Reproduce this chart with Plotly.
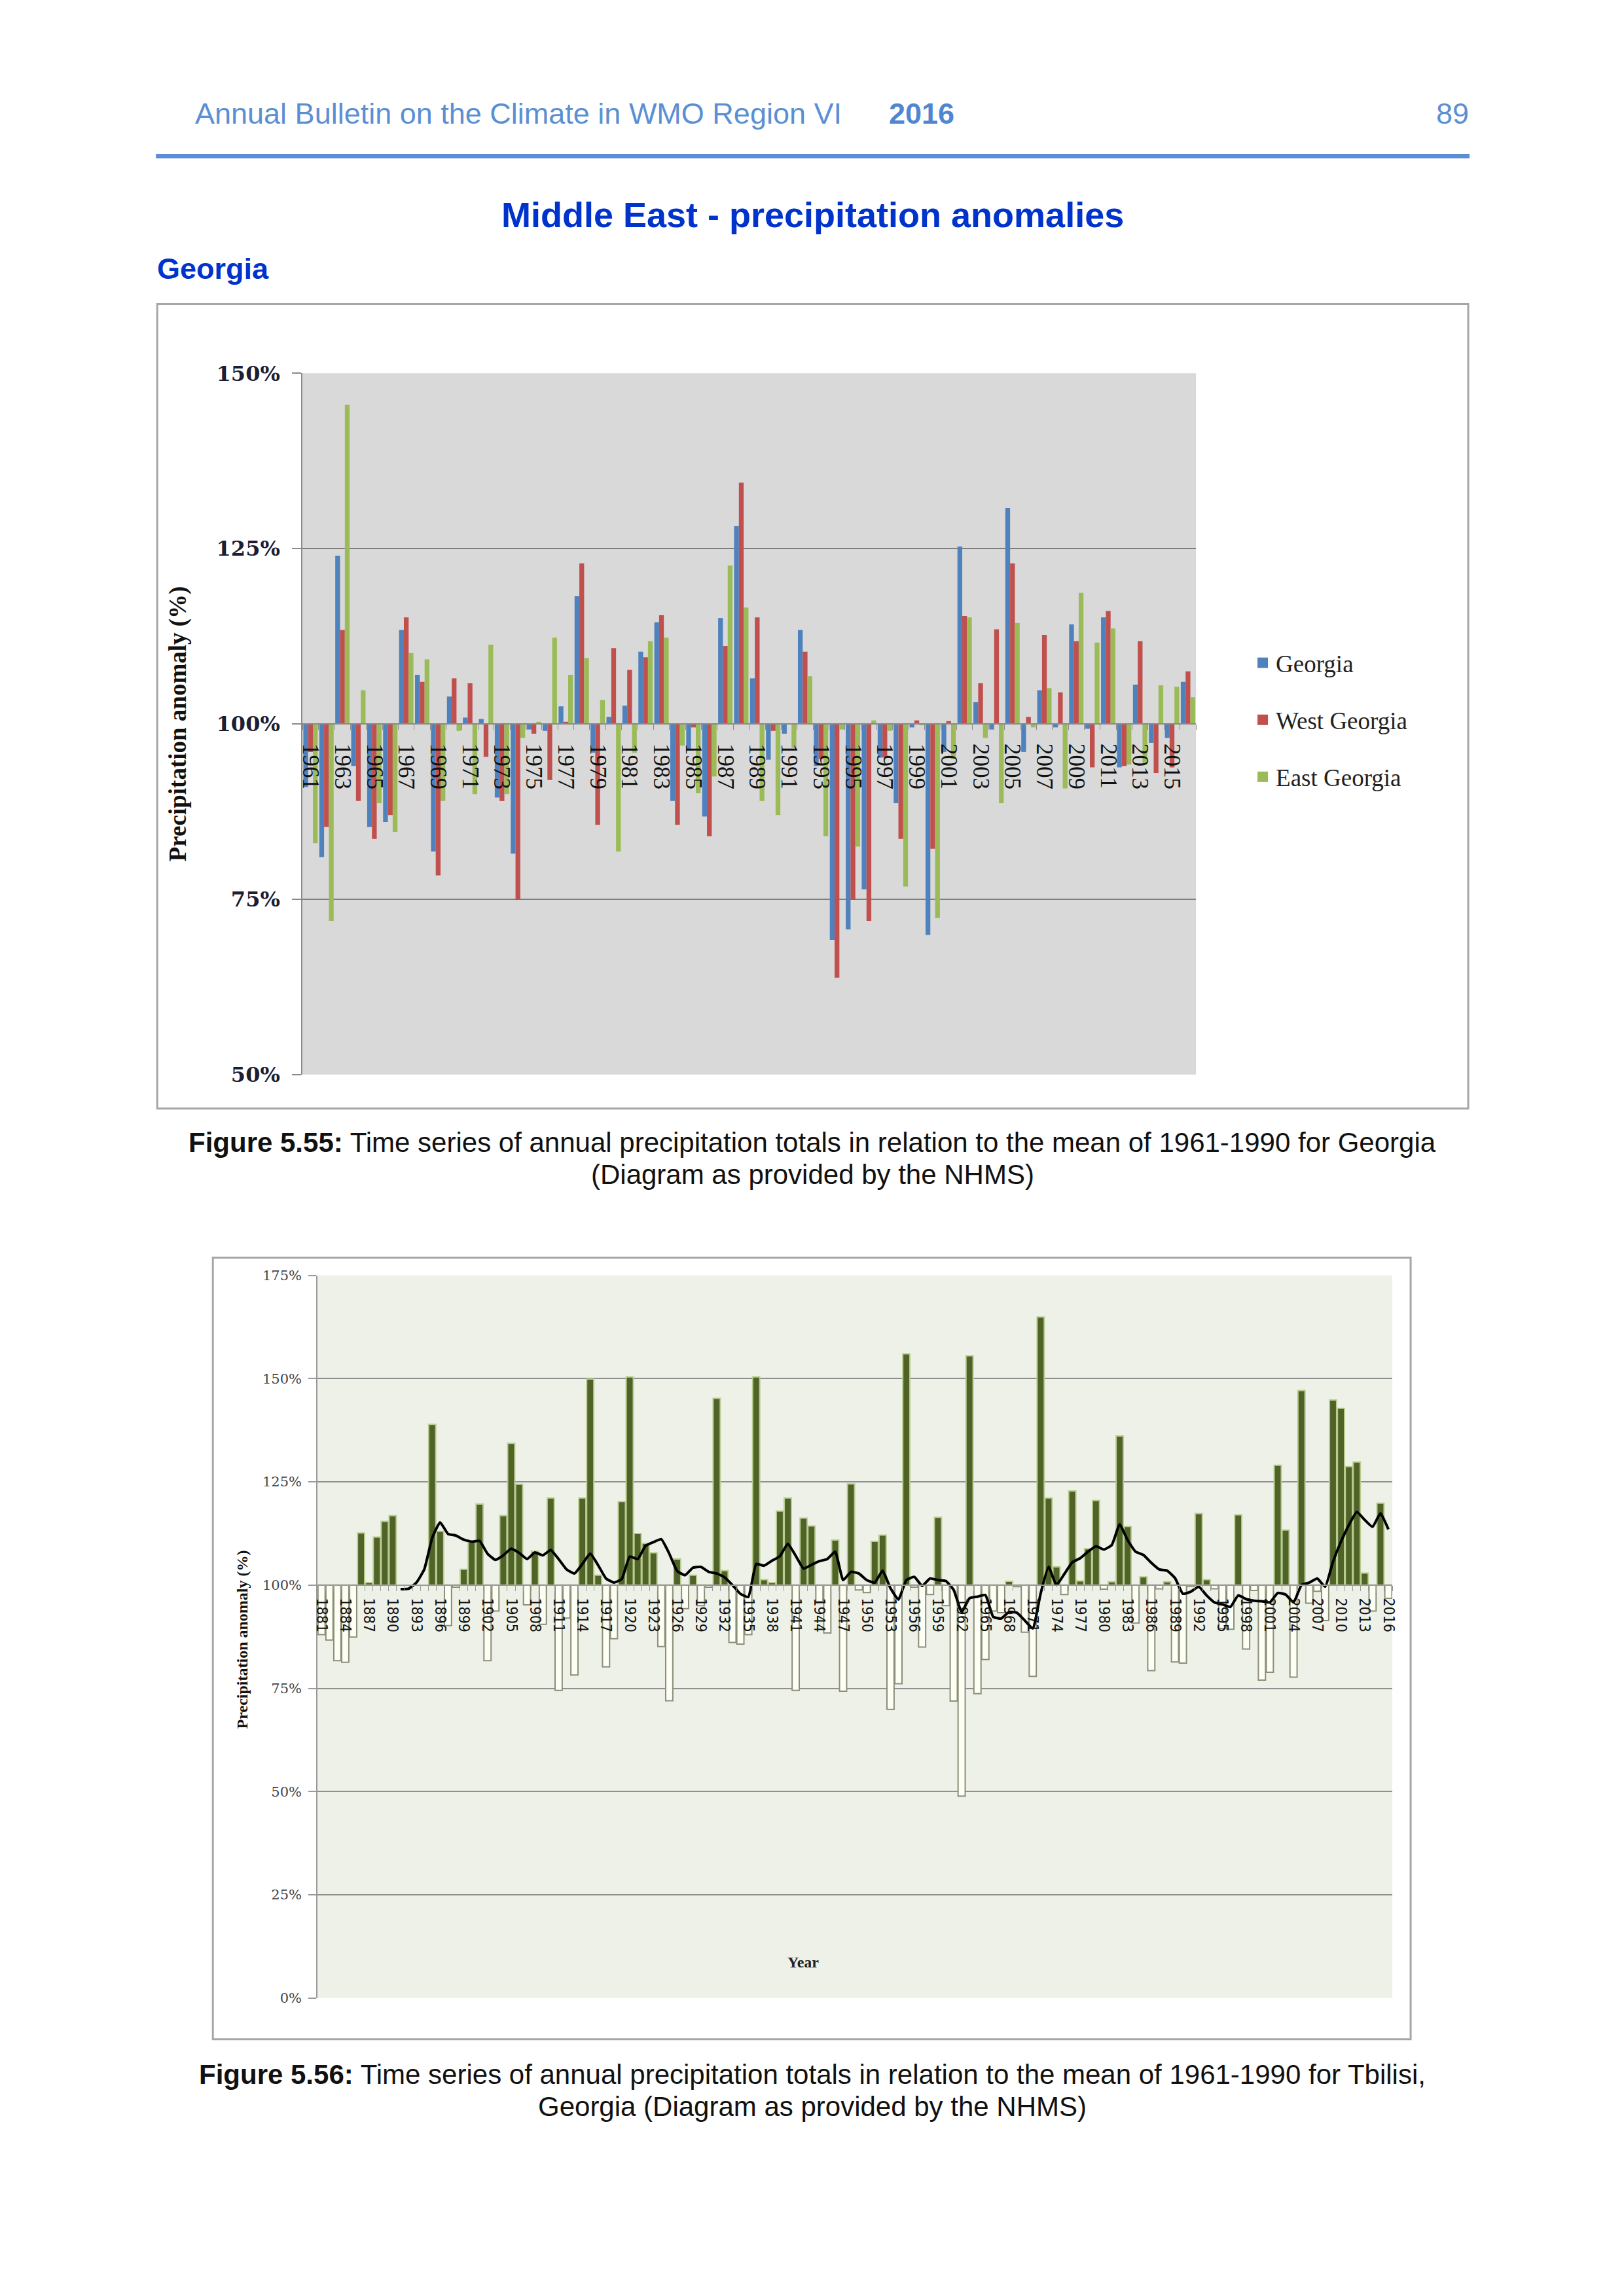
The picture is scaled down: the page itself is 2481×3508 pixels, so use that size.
import plotly.graph_objects as go

PAGE_W, PAGE_H = 2481, 3508
BODY_MARGIN = 8
W, H = PAGE_W - 2 * BODY_MARGIN, PAGE_H - 2 * BODY_MARGIN
# empirical calibration of the rendered page (page px -> rendered px)
AX, BX = 5.8, 0.99441
AY, BY = 17.4, 0.98972

# ---------------- Figure 5.55 data ----------------
years1 = list(range(1961, 2017))
georgia = [91, 81, 124, 94, 85.3, 86, 113.4, 107, 81.8, 103.9,
           100.9, 100.7, 89.5, 81.5, 99.2, 99, 102.5, 118.2, 95.9, 101,
           102.6, 110.3, 114.5, 89, 96.2, 86.8, 115.1, 128.2, 106.5, 94.9,
           98.6, 113.4, 94, 69.2, 70.7, 76.4, 95.2, 88.7, 99.5, 69.9,
           96, 125.3, 103.1, 99.2, 130.8, 96, 104.8, 99.5, 114.2, 99.3,
           115.2, 93.8, 105.6, 97.3, 98, 106]
west_georgia = [96, 85.3, 113.4, 89, 83.6, 87, 115.2, 106, 78.4, 106.5,
                105.8, 95.3, 89, 74.9, 98.6, 92, 100.3, 122.9, 85.6, 110.8,
                107.7, 109.5, 115.5, 85.6, 99.5, 84, 111.1, 134.4, 115.2, 99,
                100, 110.3, 95, 63.8, 74.9, 71.9, 95.2, 83.6, 100.5, 82.2,
                100.4, 115.4, 105.8, 113.5, 122.9, 101, 112.7, 104.5, 111.8, 93.8,
                116.1, 94, 111.8, 93, 93.8, 107.5]
east_georgia = [83, 71.9, 145.5, 104.8, 88.7, 84.6, 110.1, 109.2, 89, 99,
                90, 111.3, 90, 98, 100.3, 112.3, 107, 109.4, 103.4, 81.8,
                95.9, 111.8, 112.3, 96.9, 90.1, 92.5, 122.6, 116.6, 89, 87,
                96.6, 106.8, 84, 99.2, 82.5, 100.5, 99, 76.8, 99.8, 72.3,
                95, 115.2, 98, 88.7, 114.4, 99.5, 105.1, 90.8, 118.7, 111.6,
                113.6, 94.2, 94.2, 105.5, 105.3, 103.8]
series1_names = ["Georgia", "West Georgia", "East Georgia"]
series1_colors = ["#4F81BD", "#C0504D", "#9BBB59"]
ticks1 = list(range(1961, 2016, 2))
yticks1 = [50, 75, 100, 125, 150]

# ---------------- Figure 5.56 data (Tbilisi) ----------------
years2 = list(range(1881, 2017))
tbilisi = [88, 86.7, 81.7, 81.3, 87.4, 112.6, 100.6, 111.6, 115.4, 116.8,
           None, None, None, None, 138.9, 113, 90.2, 99.5, 103.8, 110.4,
           119.6, 81.7, 93.7, 116.8, 134.3, 124.4, 95.2, 108.2, 90.5, 121.1,
           74.5, 92, 78.2, 121.1, 149.9, 102.4, 80.2, 87, 120.2, 150.4,
           112.5, 110.1, 107.8, 85.1, 72, 106.3, 94.3, 102.4, 95, 99.5,
           145.2, 103.5, 86.1, 85.7, 88, 150.4, 101.3, 100.6, 117.9, 121.1,
           74.5, 116.2, 114.3, 96, 88.4, 110.9, 74.3, 124.5, 98.8, 98.2,
           110.6, 112.1, 69.9, 76.1, 156, 99.5, 85, 97.7, 116.4, 95,
           71.9, 48.9, 155.5, 73.7, 82, 93.7, 93.3, 100.9, 99.6, 88.6,
           77.9, 164.9, 121.1, 104.4, 97.7, 122.8, 101, 108.8, 120.5, 99,
           100.8, 136.1, 114.2, 90.8, 102, 79.3, 99.1, 100.8, 81.4, 81.1,
           99.7, 117.3, 101.3, 99.1, 89.5, 89.3, 117, 84.5, 98.7, 77,
           78.9, 129, 113.3, 77.7, 147.1, 95.6, 98.5, 91.4, 144.8, 142.8,
           128.7, 129.8, 102.9, 93.7, 119.8, 96.8]
line_years = list(range(1891, 2017))
line_vals = [99, 99.1, 100.6, 103.8, 111.4, 115.2, 112.4, 112, 111, 110.5,
             110.7, 107.6, 106.1, 107.2, 108.8, 107.8, 106.3, 107.9, 107.2, 108.5,
             106.3, 103.8, 102.8, 105.1, 107.6, 104.8, 101.6, 100.6, 101.5, 106.9,
             106.3, 109.5, 110.4, 111.1, 107.6, 103.4, 102.4, 104.2, 104.4, 103.2,
             102.8, 101.9, 100, 97.9, 97.1, 105.1, 104.7, 105.9, 107, 110,
             107.1, 104, 104.9, 105.8, 106.3, 108.1, 101.2, 103.2, 102.8, 101.2,
             100.6, 103.5, 99.2, 96.5, 101.2, 102, 99.8, 101.6, 101.2, 101,
             98.8, 93.5, 96.8, 97.2, 97.6, 92.3, 91.9, 93.5, 93.3, 91.4,
             89.5, 98, 104.4, 100, 102.7, 105.5, 106.5, 108.1, 109.4, 108.6,
             109.7, 114.7, 110.9, 108.1, 107.3, 105.4, 103.8, 103.5, 101.7, 97.9,
             98.4, 99.6, 97.5, 95.8, 95.3, 94.7, 97.5, 96.6, 96.2, 96.1,
             95.8, 98.1, 97.7, 95.8, 100, 100.6, 101.6, 99.6, 105.7, 110.5,
             114.5, 117.7, 115.8, 114.1, 117.4, 113.5]
ticks2 = list(range(1881, 2017, 3))
yticks2 = [0, 25, 50, 75, 100, 125, 150, 175]


def px(x):
    s = (x - AX) / BX
    return (s - BODY_MARGIN) / W


def py(y):
    s = (y - AY) / BY
    return 1 - (s - BODY_MARGIN) / H


BASE = 100

fig = go.Figure()

# Chart 1 bars
for name, vals, col in zip(series1_names, [georgia, west_georgia, east_georgia], series1_colors):
    fig.add_trace(go.Bar(
        x=years1, y=[v - BASE for v in vals], base=BASE, name=name,
        marker=dict(color=col, line=dict(width=0)),
        showlegend=False, xaxis="x", yaxis="y"))
# legend swatches for chart 1
for name, col in zip(series1_names, series1_colors):
    fig.add_trace(go.Scatter(
        x=[None], y=[None], mode="markers", name=name, legendgroup=name,
        marker=dict(symbol="square", size=16, color=col),
        xaxis="x", yaxis="y"))

# Chart 2 bars
fig.add_trace(go.Bar(
    x=years2, y=[(v - BASE) if v is not None else None for v in tbilisi], base=BASE,
    marker=dict(color=["#4F6228" if (v is not None and v >= BASE) else "#FDFEF4" for v in tbilisi],
                line=dict(color=["#B9CC8E" if (v is not None and v >= BASE) else "#8C8E78" for v in tbilisi],
                          width=2)),
    showlegend=False, xaxis="x2", yaxis="y2"))

fig.add_trace(go.Scatter(
    x=line_years, y=line_vals, mode="lines",
    line=dict(color="black", width=4, shape="spline", smoothing=0.4),
    showlegend=False, xaxis="x2", yaxis="y2"))

# domains
d1x = [px(461), px(1826)]
d1y = [py(1641), py(569)]
d2x = [px(484), px(2126)]
d2y = [py(3053), py(1948)]
pos1 = d1y[0] + (BASE - 50) / 100 * (d1y[1] - d1y[0])
pos2 = d2y[0] + BASE / 175 * (d2y[1] - d2y[0])

fig.update_layout(
    width=W, height=H, autosize=False,
    margin=dict(l=0, r=0, t=0, b=0),
    paper_bgcolor="white", plot_bgcolor="rgba(0,0,0,0)",
    barmode="group", bargap=0.1, bargroupgap=0,
    showlegend=True,
    legend=dict(x=px(1908), y=py(981), xanchor="left", yanchor="top",
                font=dict(family="Liberation Serif", size=37, color="#222222"),
                bgcolor="rgba(0,0,0,0)", tracegroupgap=36, itemwidth=30),
    xaxis=dict(domain=d1x, anchor="free", position=pos1, range=[1960.5, 2016.5],
               tickmode="array", tickvals=ticks1, ticktext=[str(t) for t in ticks1],
               tickangle=90, tickfont=dict(family="Liberation Serif", size=35, color="#111111"),
               ticklabelstandoff=22,
               showgrid=False, zeroline=False, showline=True, linecolor="#8a8a8a", linewidth=2,
               ticks="", minor=dict(ticks="outside", ticklen=8, tickcolor="#8a8a8a",
                                    tick0=1960.5, dtick=1, showgrid=False)),
    yaxis=dict(domain=d1y, anchor="x", range=[50, 150],
               tickmode="array", tickvals=yticks1, ticktext=[f"{t}%" for t in yticks1],
               tickfont=dict(family="DejaVu Serif", size=32, color="#1d1d33", weight="bold"),
               ticklabelstandoff=12,
               showgrid=True, gridcolor="#7f7f7f", gridwidth=2, zeroline=False,
               showline=True, linecolor="#8a8a8a", linewidth=2,
               ticks="outside", ticklen=14, tickcolor="#8a8a8a", tickwidth=2),
    xaxis2=dict(domain=d2x, anchor="free", position=pos2, range=[1880.5, 2016.5],
                tickmode="array", tickvals=ticks2, ticktext=[str(t) for t in ticks2],
                tickangle=90,
                tickfont=dict(family="Liberation Sans Narrow, DejaVu Sans Condensed, Liberation Sans",
                              size=23, color="#111111"),
                ticklabelstandoff=14,
                showgrid=False, zeroline=False, showline=True, linecolor="#9a9a9a", linewidth=2,
                ticks="", minor=dict(ticks="outside", ticklen=8, tickcolor="#9a9a9a",
                                     tick0=1880.5, dtick=1, showgrid=False)),
    yaxis2=dict(domain=d2y, anchor="x2", range=[0, 175],
                tickmode="array", tickvals=yticks2, ticktext=[f"{t}%" for t in yticks2],
                tickfont=dict(family="DejaVu Serif", size=21, color="#444444"),
                ticklabelstandoff=6,
                showgrid=True, gridcolor="#8f8f8f", gridwidth=1.5, zeroline=False,
                showline=True, linecolor="#9a9a9a", linewidth=2,
                ticks="outside", ticklen=12, tickcolor="#9a9a9a", tickwidth=2),
)

shapes = [
    dict(type="rect", xref="x domain", yref="y domain", x0=0, x1=1, y0=0, y1=1,
         fillcolor="#D9D9D9", line=dict(width=0), layer="below"),
    dict(type="rect", xref="x2 domain", yref="y2 domain", x0=0, x1=1, y0=0, y1=1,
         fillcolor="#EEF1E8", line=dict(width=0), layer="below"),
    dict(type="rect", xref="paper", yref="paper", x0=px(239), x1=px(2242), y0=py(1693), y1=py(463),
         line=dict(color="#A6A6A6", width=3), fillcolor="rgba(0,0,0,0)", layer="below"),
    dict(type="rect", xref="paper", yref="paper", x0=px(324), x1=px(2154), y0=py(3116), y1=py(1921),
         line=dict(color="#A6A6A6", width=3), fillcolor="rgba(0,0,0,0)", layer="below"),
    dict(type="line", xref="paper", yref="paper", x0=px(237), x1=px(2244), y0=py(237), y1=py(237),
         line=dict(color="#5B8ED6", width=7)),
]
fig.update_layout(shapes=shapes)

CAP = dict(family="Liberation Sans", size=42, color="#111111")
ann = [
    dict(text="Annual Bulletin on the Climate in WMO Region VI", x=px(295), y=py(172),
         xanchor="left", yanchor="middle",
         font=dict(family="Liberation Sans", size=45, color="#5B8FD4")),
    dict(text="<b>2016</b>", x=px(1355), y=py(172), xanchor="left", yanchor="middle",
         font=dict(family="Liberation Sans", size=45, color="#4F86D0")),
    dict(text="89", x=px(2245), y=py(172), xanchor="right", yanchor="middle",
         font=dict(family="Liberation Sans", size=45, color="#5B8FD4")),
    dict(text="<b>Middle East - precipitation anomalies</b>", x=px(1240), y=py(327),
         xanchor="center", yanchor="middle",
         font=dict(family="Liberation Sans", size=54, color="#0033CC")),
    dict(text="<b>Georgia</b>", x=px(237), y=py(409), xanchor="left", yanchor="middle",
         font=dict(family="Liberation Sans", size=45, color="#0033CC")),
    dict(text="<b>Figure 5.55:</b> Time series of annual precipitation totals in relation to the mean of 1961-1990 for Georgia",
         x=px(1240), y=py(1745), xanchor="center", yanchor="middle", font=CAP),
    dict(text="(Diagram as provided by the NHMS)",
         x=px(1240), y=py(1794), xanchor="center", yanchor="middle", font=CAP),
    dict(text="<b>Figure 5.56:</b> Time series of annual precipitation totals in relation to the mean of 1961-1990 for Tbilisi,",
         x=px(1240), y=py(3170), xanchor="center", yanchor="middle", font=CAP),
    dict(text="Georgia (Diagram as provided by the NHMS)",
         x=px(1240), y=py(3219), xanchor="center", yanchor="middle", font=CAP),
    dict(text="<b>Precipitation anomaly (%)</b>", x=px(271), y=py(1105), textangle=-90,
         xanchor="center", yanchor="middle",
         font=dict(family="Liberation Serif", size=37, color="#111111")),
    dict(text="<b>Precipitation anomaly (%)</b>", x=px(369), y=py(2505), textangle=-90,
         xanchor="center", yanchor="middle",
         font=dict(family="Liberation Serif", size=24, color="#111111")),
    dict(text="<b>Year</b>", x=px(1226), y=py(2998), xanchor="center", yanchor="middle",
         font=dict(family="Liberation Serif", size=24, color="#222222")),
]
for a in ann:
    a.update(xref="paper", yref="paper", showarrow=False)
fig.update_layout(annotations=ann)

fig.write_html("out.html")
